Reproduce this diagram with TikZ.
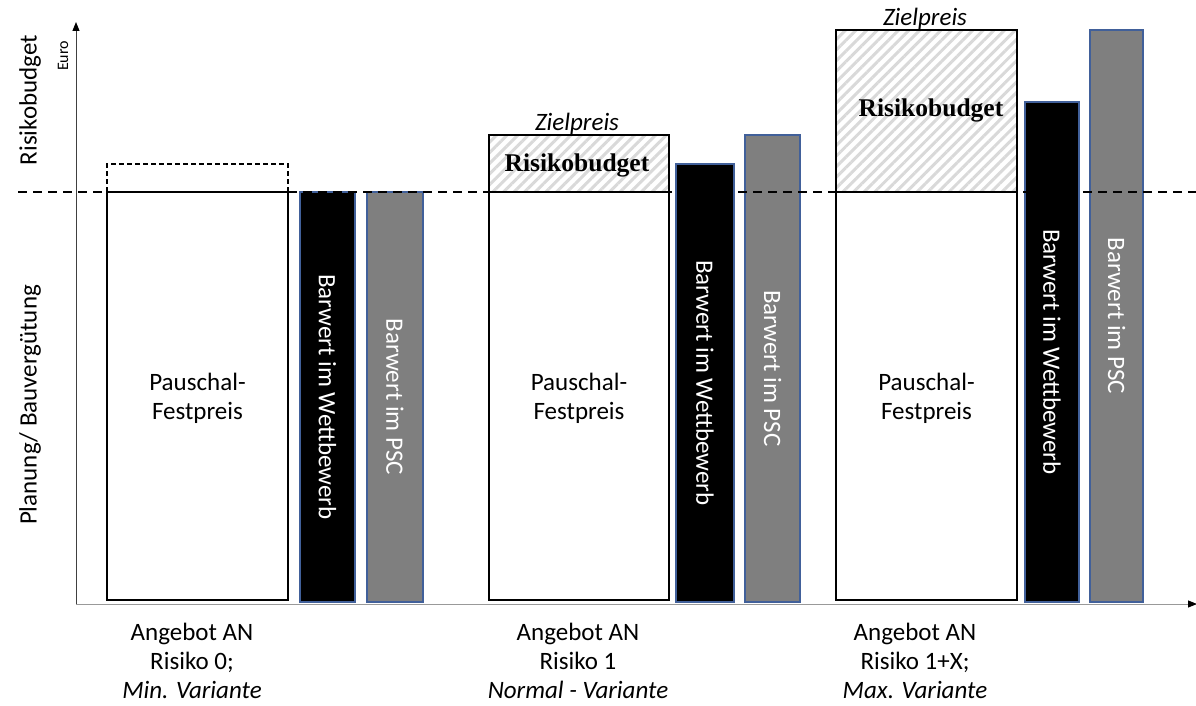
\documentclass[tikz,border=0pt]{standalone}
\usepackage{fontspec}
\setmainfont{Carlito}
\newfontfamily\timesfont{Liberation Serif}
\usetikzlibrary{arrows.meta,patterns.meta}
\definecolor{barblue}{HTML}{41609A}
\definecolor{bargray}{HTML}{7F7F7F}
\definecolor{hatchgray}{HTML}{D9D9D9}
\tikzset{
  bigtext/.style={font=\fontsize{25}{29}\selectfont, align=center, inner sep=0pt},
  bartext/.style={bigtext, rotate=-90, text=white},
  budgettext/.style={font=\timesfont\bfseries\fontsize{25.5}{29}\selectfont, inner sep=0pt},
  festbox/.style={draw=black, line width=1.3pt},
  wbbar/.style={draw=barblue, fill=black, line width=1.2pt},
  pscbar/.style={draw=barblue, fill=bargray, line width=1.2pt},
  hatched/.style={pattern={Lines[angle=45,distance=7.5pt,line width=3pt]}, pattern color=hatchgray},
  axisline/.style={line width=1pt, -{Triangle[length=9pt,width=7pt,color=black]}}
}

\begin{document}
\begin{tikzpicture}[x=1pt,y=-1pt]
                \useasboundingbox (0,0) rectangle (1196,706);

                %axes, define the corner points first
                \coordinate (O) at (76,604);
                \coordinate (ytop) at (76,22);
                \coordinate (xend) at (1197,604);
                \draw[axisline, black!75] (O) -- (ytop);
                \draw[axisline, black!40] (O) -- (xend);

                %axis labels on the left
                \node[bigtext, rotate=90] (risklabel) at (30,100) {Risikobudget};
                \node[font=\fontsize{16}{18}\selectfont, rotate=90, inner sep=0pt] (eurolabel) at (63,56) {Euro};
                \node[bigtext, rotate=90] (planlabel) at (30,405) {Planung/ Bauvergütung};

                %first offer, Risiko 0
                \draw[festbox] (107,192) rectangle (288,600);
                \draw[festbox, line width=1.2pt, dash pattern=on 5pt off 3pt] (107,192) -- (107,164) -- (288,164) -- (288,192);
                \draw[wbbar] (300,192) rectangle (355,602);
                \draw[pscbar] (367,192) rectangle (423,602);

                %second offer, Risiko 1
                \path[hatched] (489,135) rectangle (669,192);
                \draw[festbox] (489,135) rectangle (669,600);
                \draw[festbox] (489,192) -- (669,192);
                \draw[wbbar] (676,164) rectangle (734,602);
                \draw[pscbar] (745,135) rectangle (800,602);

                %third offer, Risiko 1+X
                \path[hatched] (836,30) rectangle (1017,192);
                \draw[festbox] (836,30) rectangle (1017,600);
                \draw[festbox] (836,192) -- (1017,192);
                \draw[wbbar] (1025,102) rectangle (1079,602);
                \draw[pscbar] (1090,30) rectangle (1143,602);

                %dashed level of the fixed price
                \coordinate (dashstart) at (18,192);
                \coordinate (dashend) at (1196,192);
                \draw[line width=2.2pt, dash pattern=on 9pt off 6pt] (dashstart) -- (dashend);

                %texts inside the boxes
                \node[bigtext] (fest0) at (197.5,398) {Pauschal-\\Festpreis};
                \node[bigtext] (fest1) at (579,398) {Pauschal-\\Festpreis};
                \node[bigtext] (fest2) at (926.5,398) {Pauschal-\\Festpreis};
                \node[budgettext] (budget1) at (577,165) {Risikobudget};
                \node[budgettext] (budget2) at (931,110) {Risikobudget};
                \node[bigtext, font=\itshape\fontsize{25}{29}\selectfont] (ziel1) at (577,124) {Zielpreis};
                \node[bigtext, font=\itshape\fontsize{25}{29}\selectfont] (ziel2) at (925,19) {Zielpreis};

                %texts inside the bars
                \node[bartext] (wb0) at (327.5,397) {Barwert im Wettbewerb};
                \node[bartext] (psc0) at (395,397) {Barwert im PSC};
                \node[bartext] (wb1) at (705,383) {Barwert im Wettbewerb};
                \node[bartext] (psc1) at (772.5,368.5) {Barwert im PSC};
                \node[bartext] (wb2) at (1052,352) {Barwert im Wettbewerb};
                \node[bartext] (psc2) at (1116.5,316) {Barwert im PSC};

                %labels under the x axis
                \node[bigtext] (offer0) at (192,661) {Angebot AN\\Risiko 0;\\\textit{Min. Variante}};
                \node[bigtext] (offer1) at (578,661) {Angebot AN\\Risiko 1\\\textit{Normal - Variante}};
                \node[bigtext] (offer2) at (915,661) {Angebot AN\\Risiko 1+X;\\\textit{Max. Variante}};
\end{tikzpicture}
\end{document}
